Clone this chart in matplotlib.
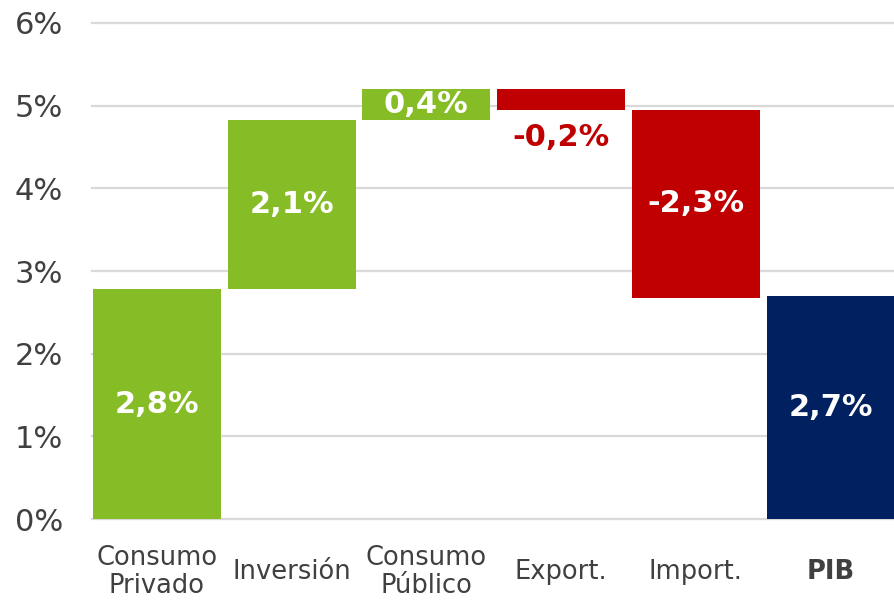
import numpy as np
import matplotlib.pyplot as plt

# waterfall pieces (percentage points)
categories = ["Consumo\nPrivado", "Inversión", "Consumo\nPúblico", "Export.", "Import.", "PIB"]
deltas = [2.78, 2.05, 0.37, -0.25, -2.27]
total = 2.70
labels = ["2,8%", "2,1%", "0,4%", "-0,2%", "-2,3%", "2,7%"]

green = "#86BC25"
red = "#C00000"
navy = "#002060"

starts = np.concatenate([[0], np.cumsum(deltas)[:-1]])
bottoms = [min(s, s + d) for s, d in zip(starts, deltas)] + [0]
heights = [abs(d) for d in deltas] + [total]
colors = [green if d > 0 else red for d in deltas] + [navy]

fig = plt.figure(figsize=(8.94, 6.03), dpi=100)
ax = fig.add_axes([0.103, 0.139, 0.897, 0.823])

x = np.arange(len(categories))
ax.bar(x, heights, bottom=bottoms, width=0.95, color=colors, zorder=3)

for i, (b, h, lab) in enumerate(zip(bottoms, heights, labels)):
    if i == 3:
        # small bar: label goes under it
        ax.text(i, b - 0.16, lab, ha="center", va="top", color=red,
                fontsize=22, fontweight="bold", zorder=4)
    else:
        ax.text(i, b + h / 2, lab, ha="center", va="center", color="white",
                fontsize=22, fontweight="bold", zorder=4)

ax.set_ylim(0, 6)
ax.set_xlim(-0.48, 5.47)
ax.set_yticks(range(7))
ax.set_yticklabels([f"{v}%" for v in range(7)], fontsize=22, color="#404040")
ax.yaxis.grid(True, color="#D9D9D9", linewidth=1.6, zorder=0)
for gl in ax.get_ygridlines():
    gl.set_clip_on(False)
ax.set_xticks(x)
ax.set_xticklabels(categories, fontsize=18.5, color="#404040", linespacing=1.1)
for t in ax.get_xticklabels():
    t.set_va("center")
ax.get_xticklabels()[-1].set_fontweight("bold")
ax.tick_params(axis="x", length=0, pad=38)
ax.tick_params(axis="y", length=0, pad=21)
for s in ax.spines.values():
    s.set_visible(False)

fig.savefig("out.png", dpi=100)
